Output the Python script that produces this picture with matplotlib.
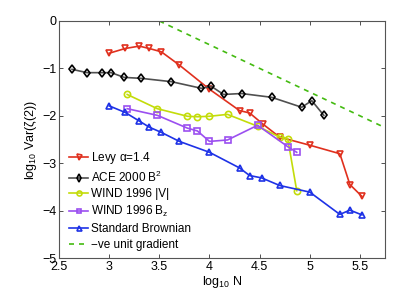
import matplotlib
matplotlib.use("Agg")
import matplotlib.pyplot as plt

plt.rcParams["font.family"] = ["Liberation Sans", "DejaVu Sans"]
plt.rcParams["mathtext.fontset"] = "custom"
plt.rcParams["mathtext.rm"] = "Liberation Sans"
plt.rcParams["mathtext.it"] = "Liberation Sans"

# log10 N and log10 Var values
levy_x = [3.0, 3.16, 3.3, 3.4, 3.52, 3.7, 4.0, 4.3, 4.4, 4.53, 4.7, 5.0, 5.3, 5.4, 5.52]
levy_y = [-0.68, -0.58, -0.53, -0.58, -0.65, -0.93, -1.44, -1.89, -1.94, -2.17, -2.45, -2.62, -2.80, -3.45, -3.70]

ace_x = [2.63, 2.78, 2.93, 3.02, 3.15, 3.32, 3.62, 3.92, 4.02, 4.14, 4.32, 4.62, 4.92, 5.02, 5.14]
ace_y = [-1.02, -1.09, -1.09, -1.09, -1.19, -1.21, -1.28, -1.42, -1.38, -1.55, -1.53, -1.61, -1.82, -1.68, -1.99]

wv_x = [3.18, 3.48, 3.78, 3.88, 4.0, 4.18, 4.48, 4.7, 4.78, 4.87]
wv_y = [-1.55, -1.85, -2.01, -2.02, -2.01, -1.97, -2.22, -2.45, -2.48, -3.58]

wbz_x = [3.18, 3.48, 3.78, 3.88, 4.0, 4.18, 4.48, 4.78, 4.87]
wbz_y = [-1.85, -1.99, -2.26, -2.32, -2.54, -2.51, -2.20, -2.65, -2.77]

brown_x = [3.0, 3.16, 3.3, 3.4, 3.52, 3.7, 4.0, 4.3, 4.4, 4.52, 4.7, 5.0, 5.3, 5.4, 5.52]
brown_y = [-1.79, -1.93, -2.11, -2.24, -2.35, -2.54, -2.77, -3.10, -3.26, -3.31, -3.47, -3.61, -4.08, -3.99, -4.09]

grad_x = [3.5, 5.72]
grad_y = [0.0, -2.22]

fig = plt.figure(figsize=(4.11, 2.94), dpi=100)
ax = fig.add_axes([0.1436, 0.1224, 0.7931, 0.8062])

ms = 4.5
mew = 1.2
ax.plot(levy_x, levy_y, color="#e0301e", marker="v", markersize=ms, markerfacecolor="none",
        markeredgewidth=mew, linewidth=1.2, label=r"Levy $\alpha$=1.4")
ax.plot(ace_x, ace_y, color="#505050", marker="d", markersize=ms, markerfacecolor="none",
        markeredgecolor="black", markeredgewidth=mew, linewidth=1.2, label=r"ACE 2000 B$^2$")
ax.plot(wv_x, wv_y, color="#c3dc0a", marker="o", markersize=ms, markerfacecolor="none",
        markeredgewidth=mew, linewidth=1.2, label="WIND 1996 |V|")
ax.plot(wbz_x, wbz_y, color="#9b4ff0", marker="s", markersize=ms - 0.5, markerfacecolor="none",
        markeredgewidth=mew, linewidth=1.2, label=r"WIND 1996 B$_z$")
ax.plot(brown_x, brown_y, color="#1e32e6", marker="^", markersize=ms, markerfacecolor="none",
        markeredgewidth=mew, linewidth=1.2, label="Standard Brownian")
ax.plot(grad_x, grad_y, color="#44bb11", linestyle=(0, (3, 3)), linewidth=1.2,
        label="\u2212ve unit gradient")

ax.set_xlim(2.5, 5.75)
ax.set_ylim(-5, 0)
ax.set_xticks([2.5, 3, 3.5, 4, 4.5, 5, 5.5])
ax.set_xticklabels(["2.5", "3", "3.5", "4", "4.5", "5", "5.5"])
ax.set_yticks([-5, -4, -3, -2, -1, 0])
ax.tick_params(direction="in", top=True, right=True, labelsize=9, length=3, width=0.6,
               colors="#333333", labelcolor="black", pad=2)
for s in ax.spines.values():
    s.set_color("#555555")
    s.set_linewidth(0.8)

ax.set_xlabel(r"log$_{10}$ N", fontsize=9, labelpad=1)
ax.set_ylabel(r"log$_{10}$ Var($\zeta$(2))", fontsize=9, labelpad=2)

leg = ax.legend(loc="lower left", bbox_to_anchor=(0.01, 0.0), frameon=False, fontsize=8.5,
                handlelength=1.6, handletextpad=0.2, labelspacing=0.32, borderaxespad=0.2,
                markerscale=0.8)

fig.savefig("out.png", dpi=100)
